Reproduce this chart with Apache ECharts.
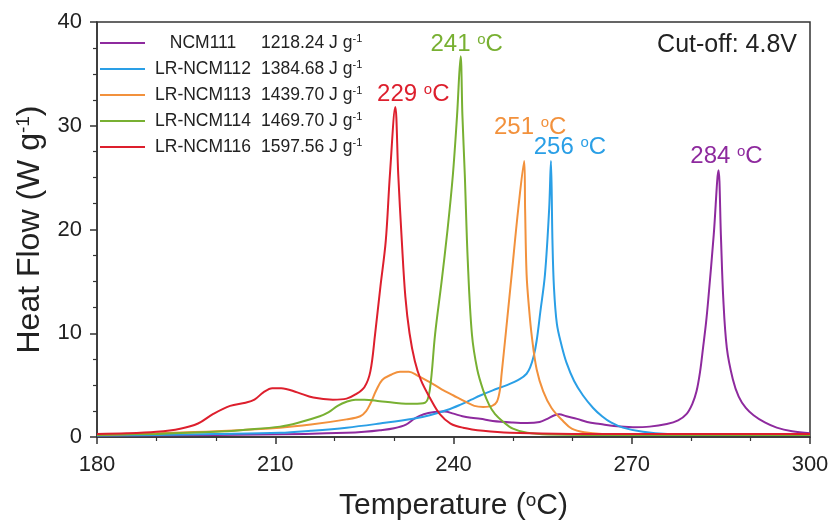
<!DOCTYPE html>
<html>
<head>
<meta charset="utf-8">
<script src="https://cdn.jsdelivr.net/npm/echarts@6/dist/echarts.min.js"></script>
<style>
  html, body { margin: 0; padding: 0; background: #fff; }
  #chart { width: 832px; height: 520px; }
</style>
</head>
<body>
<div id="chart"></div>
<script>
// DSC curves, [temperature °C, heat flow W/g]
const seriesNames = ['NCM111', 'LR-NCM112', 'LR-NCM113', 'LR-NCM114', 'LR-NCM116']
const heatReleased = ['1218.24', '1384.68', '1439.70', '1469.70', '1597.56']
const peakLabels = ['284', '256', '251', '241', '229']

const ncm111 = [[180,0.15],[200,0.2],[215,0.3],[222,0.4],[225,0.5],[227.6,0.65],[230,0.85],[232,1.2],[233.5,1.8],[235,2.2],[236.8,2.4],[238.5,2.45],[240,2.25],[241.5,2.0],[243,1.85],[244.5,1.75],[246.6,1.55],[250,1.4],[252.4,1.35],[254.5,1.45],[255.8,1.75],[257,2.1],[257.8,2.2],[259,2.0],[260.8,1.75],[262.5,1.45],[264.7,1.25],[267,1.05],[270.2,0.95],[273,1.0],[275.9,1.25],[277.8,1.6],[279.2,2.2],[280.2,3.2],[280.9,4.4],[281.5,6.3],[282,8.6],[282.5,11],[282.9,13.4],[283.8,19.5],[284.6,25.7],[285,19.5],[285.4,13.4],[286,8.6],[287,5.6],[288,3.9],[289.2,2.8],[290.5,2.1],[292.4,1.4],[294.4,0.9],[297,0.55],[300,0.35]]
const lrNcm112 = [[180,0.15],[190,0.2],[200,0.28],[210.8,0.4],[216,0.6],[222,0.9],[227.6,1.3],[233.2,1.75],[236,2.1],[238.9,2.6],[241.1,3.1],[243,3.6],[244.5,4.0],[246.6,4.5],[249,5.0],[251.2,5.6],[252.3,6.1],[252.9,6.7],[253.5,7.8],[254,9.3],[254.6,12],[255.4,15.7],[256.1,22],[256.4,26.6],[256.65,19],[256.9,14.5],[257.4,10.9],[258.2,8.8],[259,7.2],[260.3,5.4],[261.8,4.0],[263.5,2.8],[265,2],[266.5,1.4],[268.5,0.9],[271.9,0.5],[276,0.3],[285,0.25],[300,0.22]]
const lrNcm113 = [[180,0.2],[190,0.35],[200,0.55],[210.8,0.9],[216,1.2],[222,1.7],[224.3,2.0],[225.3,2.5],[226,3.2],[227,4.5],[228,5.5],[229.5,6.0],[231,6.3],[232.5,6.3],[234,5.9],[236,5.3],[238,4.6],[240,4.0],[242,3.4],[243.5,3.0],[245,2.9],[246.5,3.0],[247.3,3.4],[247.8,4.5],[248.1,6.1],[248.8,10],[249.8,15.7],[250.9,22],[251.9,26.6],[252.05,22],[252.3,15.7],[252.7,12.5],[253.2,9.6],[254,6.5],[255.1,4.4],[256.5,2.8],[258.5,1.5],[259.9,0.8],[262,0.45],[265,0.3],[280,0.25],[300,0.2]]
const lrNcm114 = [[180,0.2],[190,0.3],[200,0.5],[205,0.7],[210.8,1.0],[214,1.4],[217.5,2.0],[219,2.4],[220.5,3.0],[222,3.4],[223.5,3.6],[225,3.6],[227.6,3.45],[230,3.3],[233.2,3.2],[235.2,3.3],[236,4.5],[236.9,9.9],[238,15],[239,20],[239.9,25.3],[240.6,31],[241.2,36.7],[241.5,31],[241.9,25.3],[242.4,17],[243.1,9.9],[244,6.5],[245,4.5],[246,3.1],[247,2.2],[248.3,1.5],[250,0.8],[252.4,0.4],[256,0.25],[270,0.2],[300,0.2]]
const lrNcm116 = [[180,0.3],[185,0.35],[190,0.5],[194,0.8],[197,1.3],[199.5,2.2],[202.4,3.0],[205,3.3],[206.5,3.6],[208,4.3],[209.5,4.7],[211,4.7],[213.7,4.3],[216.4,3.8],[219.7,3.6],[222,3.7],[223.5,4.1],[225,4.8],[226,6.3],[226.8,9.9],[227.7,14.5],[228.6,18.9],[229.3,25.3],[230.2,31.8],[230.7,25.3],[231.3,18.9],[231.9,13.5],[232.6,10],[233.5,7.3],[234.5,5.5],[236,3.8],[237.7,2.2],[239.5,1.3],[241.6,0.9],[245,0.6],[249.5,0.4],[260,0.3],[280,0.3],[300,0.3]]

const curves = [ncm111, lrNcm112, lrNcm113, lrNcm114, lrNcm116]
const lineColors = ['#8e2a9e', '#2a9fe6', '#f2913c', '#78b032', '#dd1f2d']
const labelOffsets = [[8, -14], [19, -14], [6, -34], [6, -12], [18, -13]]

const FONT = '"Liberation Sans", Arial, sans-serif'
const chart = echarts.init(document.getElementById('chart'))

const series = curves.map((data, i) => {
  let peak = data[0]
  data.forEach(p => { if (p[1] > peak[1]) peak = p })
  return {
    name: seriesNames[i],
    type: 'line',
    data: data,
    smooth: 0.35,
    showSymbol: false,
    lineStyle: { color: lineColors[i], width: 2 },
    itemStyle: { color: lineColors[i] },
    markPoint: {
      symbol: 'circle',
      symbolSize: 1,
      itemStyle: { color: 'rgba(0,0,0,0)' },
      data: [{
        coord: peak,
        label: {
          show: true,
          position: 'inside',
          offset: labelOffsets[i],
          formatter: peakLabels[i] + ' {o|o}C',
          color: lineColors[i],
          fontSize: 24,
          fontFamily: FONT,
          rich: {
            o: { fontSize: 15, color: lineColors[i], fontFamily: FONT, verticalAlign: 'top', lineHeight: 24 }
          }
        }
      }]
    },
    animation: false
  }
})

chart.setOption({
  animation: false,
  textStyle: { fontFamily: FONT },
  title: {
    text: 'Cut-off: 4.8V',
    right: 30,
    top: 28,
    textStyle: { fontSize: 25, fontWeight: 'normal', color: '#222', fontFamily: FONT }
  },
  legend: {
    orient: 'vertical',
    left: 100,
    top: 33,
    padding: 0,
    itemGap: 7,
    itemWidth: 45,
    itemHeight: 2,
    icon: 'rect',
    data: seriesNames,
    formatter: name => {
      const i = seriesNames.indexOf(name)
      return '{n|' + name + '}{v|' + heatReleased[i] + ' J g}{s|-1}'
    },
    textStyle: {
      color: '#222',
      fontSize: 17.5,
      fontFamily: FONT,
      rich: {
        n: { width: 106, align: 'center', fontSize: 17.5, lineHeight: 20, color: '#222', fontFamily: FONT },
        v: { fontSize: 17.5, lineHeight: 20, color: '#222', fontFamily: FONT, padding: [0, 0, 0, 5] },
        s: { fontSize: 11, lineHeight: 20, color: '#222', fontFamily: FONT, verticalAlign: 'top' }
      }
    }
  },
  grid: {
    left: 97,
    right: 22,
    top: 22,
    bottom: 83,
    outerBoundsMode: 'none',
    containLabel: false,
    show: true,
    borderColor: '#333',
    borderWidth: 1.5
  },
  xAxis: {
    type: 'value',
    min: 180,
    max: 300,
    interval: 30,
    name: 'Temperature ({o|o}C)',
    nameLocation: 'middle',
    nameGap: 54,
    nameTextStyle: {
      fontSize: 30, color: '#222', fontFamily: FONT,
      rich: { o: { fontSize: 19, color: '#222', fontFamily: FONT, verticalAlign: 'top', lineHeight: 30 } }
    },
    axisLine: { lineStyle: { color: '#333', width: 1.5 } },
    axisTick: { show: true, inside: false, length: 7, lineStyle: { color: '#333', width: 1.5 } },
    minorTick: { show: true, splitNumber: 3, length: 4, lineStyle: { color: '#333', width: 1.2 } },
    splitLine: { show: false },
    axisLabel: { fontSize: 22, color: '#222', margin: 17, fontFamily: FONT }
  },
  yAxis: {
    type: 'value',
    min: 0,
    max: 40,
    interval: 10,
    name: 'Heat Flow (W g{s|-1})',
    nameLocation: 'middle',
    nameGap: 50,
    nameTextStyle: {
      fontSize: 32, color: '#222', fontFamily: FONT,
      rich: { s: { fontSize: 19, color: '#222', fontFamily: FONT, verticalAlign: 'top', lineHeight: 32 } }
    },
    axisLine: { show: true, lineStyle: { color: '#333', width: 1.5 } },
    axisTick: { show: true, inside: false, length: 7, lineStyle: { color: '#333', width: 1.5 } },
    minorTick: { show: true, splitNumber: 4, length: 4, lineStyle: { color: '#333', width: 1.2 } },
    splitLine: { show: false },
    axisLabel: { fontSize: 22, color: '#222', margin: 15, fontFamily: FONT }
  },
  series: series
})
</script>
</body>
</html>
